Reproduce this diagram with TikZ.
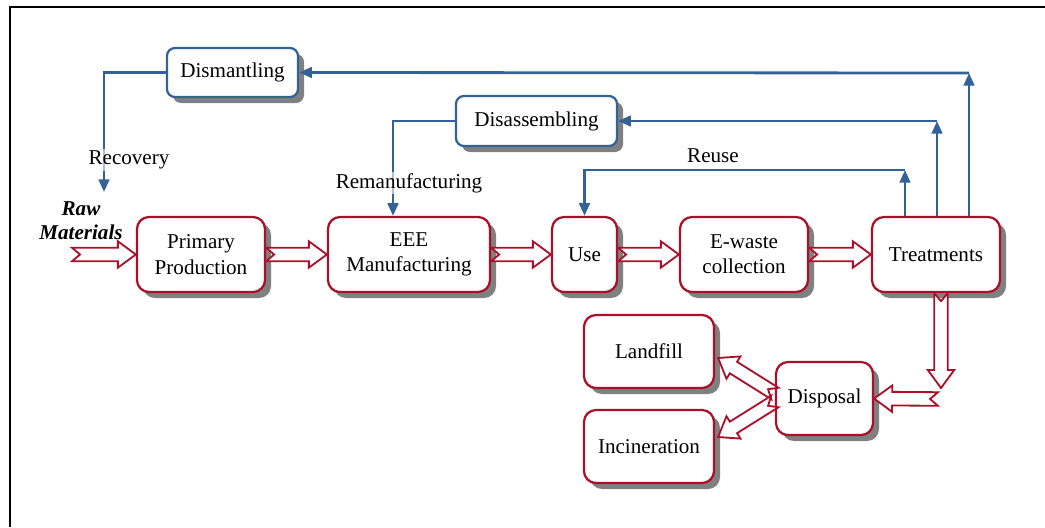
\documentclass[tikz,border=0pt]{standalone}
\usepackage{fontspec}
\setmainfont{Liberation Serif}
\usepackage{tikz}
\usetikzlibrary{calc,shadows,arrows.meta}
\definecolor{wred}{RGB}{170,16,42}
\definecolor{wblue}{RGB}{52,98,150}
\newcommand{\aw}{0.17cm}
\newcommand{\aW}{0.33cm}
\newcommand{\ah}{0.45cm}
\newcommand{\an}{0.2cm}
\tikzset{
  redbox/.style={draw=wred, line width=1.6pt, fill=white, rounded corners=0.3cm,
    align=center, minimum height=1.875cm,
    drop shadow={shadow xshift=0.15cm, shadow yshift=-0.15cm, fill=black!50, opacity=1}},
  bluebox/.style={draw=wblue, line width=1.6pt, fill=white, rounded corners=0.2cm,
    minimum height=1.225cm,
    drop shadow={shadow xshift=0.15cm, shadow yshift=-0.15cm, fill=black!50, opacity=1}},
  blu/.style={draw=wblue, line width=2pt},
  lbl/.style={fill=white, fill opacity=0.6, text opacity=1, inner sep=1pt},
  hollow/.style={draw=wred, fill=white, line width=1.3pt, line join=miter,
    to path={let \p1=($(\tikztotarget)-(\tikztostart)$),
      \n1={veclen(\x1,\y1)}, \n2={atan2(\y1,\x1)} in
      ($(\tikztostart)+(\n2+90:\aw)$)
      -- ($(\tikztostart)+(\n2:\an)$)
      -- ($(\tikztostart)+(\n2-90:\aw)$)
      -- ($(\tikztostart)+(\n2:\n1-\ah)+(\n2-90:\aw)$)
      -- ($(\tikztostart)+(\n2:\n1-\ah)+(\n2-90:\aW)$)
      -- (\tikztotarget)
      -- ($(\tikztostart)+(\n2:\n1-\ah)+(\n2+90:\aW)$)
      -- ($(\tikztostart)+(\n2:\n1-\ah)+(\n2+90:\aw)$)
      -- cycle}}
}

\begin{document}
\begin{tikzpicture}[x=0.025cm, y=-0.025cm, font=\fontsize{15}{18}\selectfont,
  >={Triangle[length=9pt,width=7.5pt]}]
\useasboundingbox (0,0) rectangle (1045,527);
\draw[line width=2pt] (10,527) -- (10,7) -- (1045,7);

\node[redbox, minimum width=3.2cm] (1) at (201,254.5) {Primary\\Production};

\node[redbox, minimum width=4.05cm] (2) at (409,254.5) {EEE\\Manufacturing};

\node[redbox, minimum width=1.625cm] (3) at (584.5,254.5) {Use};

\node[redbox, minimum width=3.2cm] (4) at (744,254.5) {E-waste\\collection};

\node[redbox, minimum width=3.2cm] (5) at (936,254.5) {Treatments};

\node[redbox, minimum width=3.25cm, minimum height=1.825cm] (6) at (649,351.5) {Landfill};

\node[redbox, minimum width=3.25cm, minimum height=1.825cm] (7) at (649,446.5) {Incineration};

\node[redbox, minimum width=2.425cm, minimum height=1.825cm] (8) at (824.5,398.5) {Disposal};

\node[bluebox, minimum width=3.275cm] (9) at (232.5,72.5) {Dismantling};

\node[bluebox, minimum width=4.025cm, minimum height=1.25cm] (10) at (536.5,121) {Disassembling};

\node[align=center, font=\fontsize{15}{17}\selectfont\bfseries\itshape] (11) at (81,221) {Raw\\Materials};

% blue loops
\coordinate (c1) at (905,170);
\coordinate (c2) at (937,121);
\coordinate (c3) at (969,73);
\coordinate (c4) at (104,192);

\draw[blu,->] (c1 |- 5.north) -- (c1);
\draw[blu,->] (c1) -- (c1 -| 3.north) -- (3.north);
\draw[blu,->] (c2 |- 5.north) -- (c2);
\draw[blu,->] (c2) -- (10.east);
\draw[blu,->] (c3 |- 5.north) -- (c3);
\draw[blu,->] (c3) -- (9.east);
\draw[blu,->] (10.west) -| ($(2.north)+(-16,0)$);
\draw[blu,->] (9.west) -| (c4);

\node[lbl] (12) at (129,160) {Recovery};
\node[lbl] (13) at (409,183) {Remanufacturing};
\node[lbl] (14) at (713,156) {Reuse};

% red block arrows
\coordinate (r0) at (72,254.5);
\coordinate (d1) at (941,388);
\coordinate (d2) at (938,399);

\draw[hollow] (r0) to (1.west);
\draw[hollow] (1.east) to (2.west);
\draw[hollow] (2.east) to (3.west);
\draw[hollow] (3.east) to (4.west);
\draw[hollow] (4.east) to (5.west);
\draw[hollow] ($(5.south)+(5,0)$) to (d1);
\draw[hollow] (d2) to (8.east);
\draw[hollow] ($(8.west)+(0,-5)$) to ($(6.east)+(3,6.5)$);
\draw[hollow] ($(8.west)+(0,3)$) to ($(7.east)+(3,-9.5)$);

\end{tikzpicture}
\end{document}
